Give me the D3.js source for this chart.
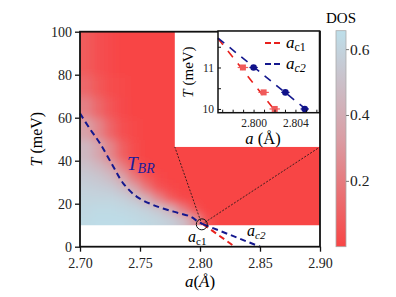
<!doctype html>
<html lang="en">
<head>
  <meta charset="utf-8">
  <title>DOS phase diagram</title>
  <script src="https://cdn.jsdelivr.net/npm/d3@7"></script>
  <style>
    body{margin:0;background:#fff}
  </style>
</head>
<body>
<div id="container"></div>
<script>
// heatmap grid (DOS), rows = T bands, cols = a bins
var aBins = [2.70,2.71,2.72,2.73,2.74,2.75,2.76,2.77,2.78,2.79,2.80,2.81];
var tBands = [10,15,20,25,30,35,40,50,60,70,80,100];
var dos = [
  [0.63,0.64,0.64,0.64,0.63,0.62,0.60,0.57,0.50,0.32,0.06],
  [0.62,0.63,0.63,0.62,0.61,0.58,0.53,0.42,0.22,0.06,0.00],
  [0.60,0.60,0.60,0.58,0.53,0.42,0.24,0.09,0.02,0.00,0.00],
  [0.58,0.57,0.55,0.49,0.36,0.19,0.06,0.02,0.00,0.00,0.00],
  [0.55,0.53,0.48,0.36,0.19,0.07,0.02,0.00,0.00,0.00,0.00],
  [0.51,0.46,0.38,0.22,0.08,0.02,0.00,0.00,0.00,0.00,0.00],
  [0.46,0.37,0.24,0.10,0.03,0.00,0.00,0.00,0.00,0.00,0.00],
  [0.35,0.24,0.12,0.04,0.01,0.00,0.00,0.00,0.00,0.00,0.00],
  [0.22,0.13,0.06,0.02,0.00,0.00,0.00,0.00,0.00,0.00,0.00],
  [0.13,0.07,0.03,0.01,0.00,0.00,0.00,0.00,0.00,0.00,0.00],
  [0.08,0.04,0.02,0.00,0.00,0.00,0.00,0.00,0.00,0.00,0.00]
];
var tbr = [[2.700,62],[2.708,55],[2.7167,48],[2.7278,37.2],[2.736,29.5],[2.7472,23.3],[2.761,19.4],[2.778,16.3],[2.792,14],[2.7986,11.6],[2.8025,10.5]];
var ac1Main = [[2.8025,10.5],[2.829,0]];
var ac2Main = [[2.8025,10.5],[2.85,0]];
var crit = [2.8015,10.4];
var insetBox = [2.779,46.4]; // lower-left corner of white inset area

// inset data
var ac1Pts = [[2.79898,11.0,0.0005],[2.80096,10.4,0.0005],[2.80202,10.0,0.0005]];
var ac2Pts = [[2.80000,11.0,0.0004],[2.80304,10.4,0.0004],[2.80489,10.0,0.0004]];
var ac1Line = [[2.7966,11.70],[2.8022,9.91]];
var ac2Line = [[2.7966,11.71],[2.8054,9.91]];

var FONT = '"Liberation Serif"';
var W = 396, H = 297;
var svg = d3.select("#container").append("svg").attr("width", W).attr("height", H);
var x = d3.scaleLinear().domain([2.70,2.90]).range([80,320]),
    y = d3.scaleLinear().domain([0,100]).range([246.7,31.7]);
var color = d3.scaleLinear().domain([0,0.33,0.656]).range(["#f84545","#da9ea5","#bddfea"]);

var defs = svg.append("defs");
defs.append("clipPath").attr("id","hclip").append("rect")
    .attr("x", x(2.70)).attr("y", y(100)).attr("width", x(2.90)-x(2.70)).attr("height", y(10)-y(100));
defs.append("filter").attr("id","blur").attr("x","-20%").attr("y","-20%").attr("width","140%").attr("height","140%")
    .append("feGaussianBlur").attr("stdDeviation", 4);

// heatmap
var gh = svg.append("g").attr("clip-path","url(#hclip)");
var gb = gh.append("g").attr("filter","url(#blur)");
gb.append("rect").attr("x", x(2.68)).attr("y", y(110)).attr("width", x(2.92)-x(2.68)).attr("height", y(0)-y(110)).attr("fill", color(0));
dos.forEach(function(row, i){
  row.forEach(function(v, j){
    var a0 = j === 0 ? 2.68 : aBins[j], a1 = aBins[j+1];
    var t0 = i === 0 ? 2 : tBands[i], t1 = i === dos.length-1 ? 110 : tBands[i+1];
    gb.append("rect").attr("x", x(a0)).attr("y", y(t1))
      .attr("width", x(a1)-x(a0)+0.5).attr("height", y(t0)-y(t1)+0.5)
      .attr("fill", color(v));
  });
});
// white area behind inset
svg.append("rect").attr("x", x(insetBox[0])).attr("y", y(100)).attr("width", x(2.90)-x(insetBox[0])).attr("height", y(insetBox[1])-y(100)).attr("fill","#fff");

// zoom lines
var zl = svg.append("g").attr("stroke","#111").attr("stroke-width",0.8).attr("stroke-dasharray","2,1.5").attr("fill","none");
zl.append("line").attr("x1", x(crit[0])).attr("y1", y(crit[1])).attr("x2", x(insetBox[0])).attr("y2", y(insetBox[1]));
zl.append("line").attr("x1", x(crit[0])).attr("y1", y(crit[1])).attr("x2", x(2.90)).attr("y2", y(insetBox[1]));

var line = d3.line().x(function(d){return x(d[0]);}).y(function(d){return y(d[1]);});
svg.append("path").datum(ac1Main).attr("d", line).attr("fill","none").attr("stroke","#e8201c").attr("stroke-width",2).attr("stroke-dasharray","6,4");
svg.append("path").datum(ac2Main).attr("d", line).attr("fill","none").attr("stroke","#14188e").attr("stroke-width",2).attr("stroke-dasharray","6,4");
svg.append("path").datum(tbr).attr("d", line.curve(d3.curveCatmullRom)).attr("fill","none").attr("stroke","#14188e").attr("stroke-width",2).attr("stroke-dasharray","6,4");
line.curve(d3.curveLinear);
svg.append("circle").attr("cx", x(crit[0])).attr("cy", y(crit[1])).attr("r",5.5).attr("fill","none").attr("stroke","#111").attr("stroke-width",1);

// axes
var xAxis = d3.axisBottom(x).tickValues([2.70,2.75,2.80,2.85,2.90]).tickFormat(d3.format(".2f")).tickSize(5).tickSizeOuter(0);
var yAxis = d3.axisLeft(y).tickValues([0,20,40,60,80,100]).tickSize(5).tickSizeOuter(0);
var gx = svg.append("g").attr("transform","translate(0,"+y(0)+")");
gx.call(d3.axisBottom(x).ticks(20).tickFormat("").tickSize(3).tickSizeOuter(0));
gx.call(xAxis);
var gy = svg.append("g").attr("transform","translate("+x(2.70)+",0)");
gy.call(d3.axisLeft(y).ticks(10).tickFormat("").tickSize(3).tickSizeOuter(0));
gy.call(yAxis);
[gx, gy].forEach(function(g){
  g.selectAll("path.domain").remove();
  g.selectAll("line").attr("stroke","#111").attr("stroke-width",1.3);
  g.selectAll("text").attr("font-size",14).attr("fill","#222");
});
gx.selectAll("text").attr("dy","0.95em");
svg.append("rect").attr("x", x(2.70)).attr("y", y(100)).attr("width", x(2.90)-x(2.70)).attr("height", y(0)-y(100))
   .attr("fill","none").attr("stroke","#111").attr("stroke-width",1.8);

svg.append("text").attr("transform","translate(42,"+(y(50))+") rotate(-90)").attr("text-anchor","middle").attr("font-size",16)
   .html('<tspan font-style="italic">T</tspan> (meV)');
svg.append("text").attr("x", 200).attr("y", 287).attr("text-anchor","middle").attr("font-size",17)
   .html('<tspan font-style="italic">a</tspan>(<tspan font-style="italic">Å</tspan>)');

// labels inside
svg.append("text").attr("x",127).attr("y",170).attr("font-size",19).attr("font-style","italic").attr("fill","#1c1c9c")
   .html('T<tspan font-size="14" dy="3">BR</tspan>');
svg.append("text").attr("x",188).attr("y",242).attr("font-size",16).attr("font-style","italic")
   .html('a<tspan font-size="11" dy="3" font-style="normal">c1</tspan>');
svg.append("text").attr("x",247).attr("y",236).attr("font-size",16).attr("font-style","italic")
   .html('a<tspan font-size="11" dy="3">c2</tspan>');

// inset
var ix = d3.scaleLinear().domain([2.7966,2.8063]).range([218,319.5]),
    iy = d3.scaleLinear().domain([9.91,11.88]).range([112.7,31]);
var gi = svg.append("g");
gi.append("rect").attr("x",218).attr("y",31).attr("width",101.5).attr("height",81.7).attr("fill","#fff");
var iline = d3.line().x(function(d){return ix(d[0]);}).y(function(d){return iy(d[1]);});
gi.append("path").datum(ac1Line).attr("d", iline).attr("fill","none").attr("stroke","#e8201c").attr("stroke-width",1.6).attr("stroke-dasharray","8,8");
gi.append("path").datum(ac2Line).attr("d", iline).attr("fill","none").attr("stroke","#14188e").attr("stroke-width",1.6).attr("stroke-dasharray","8,7");
ac1Pts.forEach(function(p){
  gi.append("line").attr("x1", ix(p[0]-p[2])).attr("x2", ix(p[0]+p[2])).attr("y1", iy(p[1])).attr("y2", iy(p[1])).attr("stroke","#f05a5a").attr("stroke-width",1.2);
  gi.append("rect").attr("x", ix(p[0])-3).attr("y", iy(p[1])-3).attr("width",6).attr("height",6).attr("fill","#f05a5a");
});
ac2Pts.forEach(function(p){
  gi.append("line").attr("x1", ix(p[0]-p[2])).attr("x2", ix(p[0]+p[2])).attr("y1", iy(p[1])).attr("y2", iy(p[1])).attr("stroke","#10128a").attr("stroke-width",1.2);
  gi.append("circle").attr("cx", ix(p[0])).attr("cy", iy(p[1])).attr("r",3.3).attr("fill","#10128a");
});
var gix = gi.append("g").attr("transform","translate(0,112.7)")
  .call(d3.axisTop(ix).tickValues([2.797,2.798,2.799,2.800,2.801,2.802,2.803,2.804,2.805,2.806]).tickFormat("").tickSize(3).tickSizeOuter(0));
gi.append("g").attr("transform","translate(0,112.7)")
  .call(d3.axisBottom(ix).tickValues([2.800,2.804]).tickFormat(d3.format(".3f")).tickSize(0).tickPadding(6).tickSizeOuter(0))
  .call(function(g){g.select(".domain").remove(); g.selectAll("text").attr("font-size",11.5).attr("fill","#222");});
var giy = gi.append("g").attr("transform","translate(218,0)")
  .call(d3.axisRight(iy).tickValues([10,10.5,11,11.5]).tickFormat("").tickSize(3).tickSizeOuter(0));
gi.append("g").attr("transform","translate(218,0)")
  .call(d3.axisLeft(iy).tickValues([10,11]).tickFormat(d3.format("d")).tickSize(0).tickPadding(4).tickSizeOuter(0))
  .call(function(g){g.select(".domain").remove(); g.selectAll("text").attr("font-size",11.5).attr("fill","#222");});
[gix, giy].forEach(function(g){ g.select(".domain").remove(); g.selectAll("line").attr("stroke","#111").attr("stroke-width",1); });
gi.append("rect").attr("x",218).attr("y",31).attr("width",101.5).attr("height",81.7).attr("fill","none").attr("stroke","#111").attr("stroke-width",1.5);
gi.append("text").attr("transform","translate(193,72) rotate(-90)").attr("text-anchor","middle").attr("font-size",15)
   .html('<tspan font-style="italic">T</tspan> (meV)');
gi.append("text").attr("x",263).attr("y",144).attr("text-anchor","middle").attr("font-size",16.5)
   .html('<tspan font-style="italic">a</tspan> (Å)');
// inset legend
gi.append("line").attr("x1",265).attr("x2",281).attr("y1",43).attr("y2",43).attr("stroke","#e8201c").attr("stroke-width",1.8).attr("stroke-dasharray","6,3");
gi.append("line").attr("x1",265).attr("x2",281).attr("y1",64).attr("y2",64).attr("stroke","#14188e").attr("stroke-width",1.8).attr("stroke-dasharray","6,3");
gi.append("text").attr("x",286).attr("y",48).attr("font-size",17).attr("font-style","italic")
   .html('a<tspan font-size="12" dy="3" font-style="normal">c1</tspan>');
gi.append("text").attr("x",286).attr("y",69).attr("font-size",17).attr("font-style","italic")
   .html('a<tspan font-size="12" dy="3">c2</tspan>');

// colorbar
var cy = d3.scaleLinear().domain([0,0.656]).range([246.7,30.7]);
var grad = defs.append("linearGradient").attr("id","cbar").attr("x1",0).attr("x2",0).attr("y1",1).attr("y2",0);
color.domain().forEach(function(v){
  grad.append("stop").attr("offset", v/0.656).attr("stop-color", color(v));
});
svg.append("rect").attr("x",336).attr("y",30.7).attr("width",10).attr("height",216).attr("fill","url(#cbar)").attr("stroke","#aaa").attr("stroke-width",0.8);
var gc = svg.append("g").attr("transform","translate(346,0)")
  .call(d3.axisRight(cy).tickValues([0.2,0.4,0.6]).tickFormat(d3.format(".1f")).tickSize(3).tickPadding(1).tickSizeOuter(0));
gc.select(".domain").remove();
gc.selectAll("line").attr("stroke","#777");
gc.selectAll("text").attr("font-size",15.5).attr("fill","#222");
svg.append("text").attr("x",341).attr("y",23).attr("text-anchor","middle").attr("font-size",15).text("DOS");

// one font for every text, set last so nothing overrides it
svg.selectAll("g").attr("font-family", null);
svg.selectAll("text").style("font-family", FONT);
</script>
</body>
</html>
